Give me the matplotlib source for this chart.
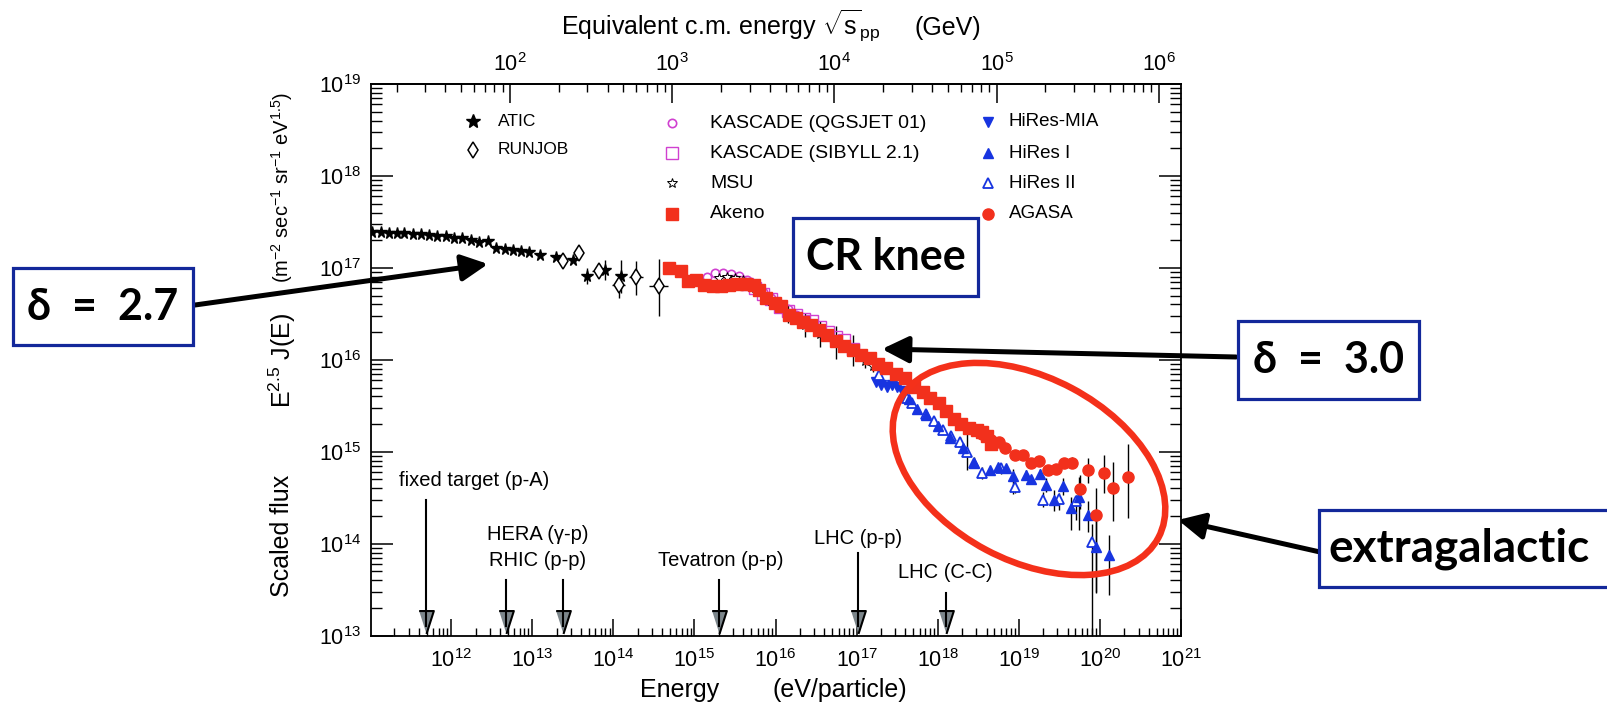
import numpy as np
import matplotlib
matplotlib.use("Agg")
import matplotlib.pyplot as plt
import matplotlib.transforms as mtransforms
from matplotlib.lines import Line2D
from matplotlib.patches import Rectangle, Ellipse, FancyArrowPatch
from matplotlib.ticker import LogLocator, NullFormatter

plt.rcParams['font.family'] = ['Liberation Sans', 'DejaVu Sans']
plt.rcParams['mathtext.fontset'] = 'custom'
plt.rcParams['mathtext.rm'] = 'Liberation Sans'
plt.rcParams['mathtext.it'] = 'Liberation Sans:italic'
plt.rcParams['mathtext.bf'] = 'Liberation Sans:bold'

# ---- cosmic-ray spectrum: log10(E / eV) and log10(E^2.5 J(E)) ----
atic_logE = [11.03, 11.14, 11.24, 11.33, 11.42, 11.53, 11.63, 11.73, 11.83, 11.94, 12.04, 12.14, 12.25,
             12.35, 12.45, 12.55, 12.66, 12.76, 12.86, 12.96, 13.09, 13.29, 13.50, 13.68, 13.90, 14.10]
atic_logF = [17.39, 17.39, 17.38, 17.38, 17.38, 17.37, 17.37, 17.36, 17.35, 17.35, 17.33, 17.32, 17.30,
             17.28, 17.29, 17.22, 17.21, 17.20, 17.18, 17.17, 17.14, 17.12, 17.09, 16.91, 16.98, 16.91]
atic_err = [0.0] * 23 + [0.09, 0.11, 0.18]

runjob_logE = [13.38, 13.58, 13.82, 14.07, 14.28, 14.56]
runjob_logF = [17.07, 17.16, 16.97, 16.81, 16.90, 16.80]
runjob_dup = [0.02, 0.02, 0.05, 0.08, 0.17, 0.30]
runjob_dlo = [0.02, 0.02, 0.05, 0.14, 0.20, 0.32]
runjob_xerr = [0.05, 0.05, 0.08, 0.08, 0.09, 0.12]

qgs_logE = [15.15, 15.25, 15.35, 15.45, 15.55, 15.65, 15.75, 15.85, 15.95, 16.05, 16.15, 16.25, 16.35, 16.45, 16.55]
qgs_logF = [16.90, 16.94, 16.94, 16.93, 16.91, 16.87, 16.80, 16.74, 16.67, 16.61, 16.55, 16.49, 16.43, 16.37, 16.30]

sib_logE = [15.45, 15.55, 15.65, 15.75, 15.85, 15.95, 16.05, 16.15, 16.25, 16.35, 16.45, 16.55, 16.65, 16.75, 16.85, 16.95]
sib_logF = [16.86, 16.85, 16.82, 16.78, 16.72, 16.66, 16.58, 16.53, 16.49, 16.44, 16.42, 16.36, 16.30, 16.25, 16.22, 16.12]

msu_logE = [15.30, 15.40, 15.50, 15.60, 15.75, 15.95, 16.15, 16.36, 16.55, 16.75, 16.95, 17.10, 17.20]
msu_logF = [16.89, 16.90, 16.89, 16.87, 16.78, 16.64, 16.50, 16.38, 16.28, 16.19, 16.10, 15.99, 15.93]
msu_err = [0.02, 0.02, 0.02, 0.02, 0.04, 0.06, 0.10, 0.13, 0.14, 0.18, 0.17, 0.08, 0.06]

akeno_logE = [14.69, 14.83, 14.92, 15.02, 15.12, 15.23, 15.33, 15.43, 15.53, 15.64, 15.74, 15.80, 15.88, 15.99,
              16.07, 16.17, 16.25, 16.34, 16.44, 16.54, 16.64, 16.75, 16.85, 16.95, 17.05, 17.16, 17.26, 17.36,
              17.49, 17.60, 17.71, 17.82, 17.91, 18.01, 18.10, 18.20, 18.29, 18.39, 18.48, 18.55, 18.61, 18.66]
akeno_logF = [17.00, 16.97, 16.86, 16.87, 16.81, 16.80, 16.80, 16.81, 16.82, 16.83, 16.81, 16.76, 16.67, 16.62,
              16.59, 16.49, 16.46, 16.41, 16.38, 16.33, 16.27, 16.21, 16.15, 16.11, 16.05, 16.02, 15.96, 15.91,
              15.85, 15.80, 15.71, 15.65, 15.59, 15.53, 15.44, 15.36, 15.30, 15.26, 15.24, 15.22, 15.17, 15.08]

mia_logE = [17.24, 17.30, 17.37, 17.44, 17.50, 17.56]
mia_logF = [15.76, 15.73, 15.71, 15.73, 15.71, 15.66]

hr1_logE = [17.64, 17.75, 17.85, 18.00, 18.15, 18.31, 18.45, 18.64, 18.74, 18.84, 18.93,
            19.09, 19.15, 19.26, 19.34, 19.44, 19.54, 19.64, 19.74, 19.85, 19.95, 20.11]
hr1_logF = [15.57, 15.47, 15.40, 15.28, 15.15, 15.04, 14.88, 14.80, 14.84, 14.82, 14.74,
            14.75, 14.70, 14.76, 14.64, 14.48, 14.63, 14.39, 14.51, 14.31, 13.97, 13.88]
hr1_dup = [0.02] * 10 + [0.07, 0.05, 0.05, 0.05, 0.08, 0.10, 0.08, 0.12, 0.22, 0.16, 0.30, 0.22]
hr1_dlo = [0.02] * 10 + [0.20, 0.05, 0.05, 0.05, 0.08, 0.12, 0.10, 0.24, 0.36, 0.18, 0.50, 0.44]

hr2_logE = [17.28, 17.62, 17.68, 17.85, 17.96, 18.06, 18.16, 18.27, 18.36, 18.45, 18.55,
            18.78, 18.95, 19.30, 19.50, 19.70, 19.90]
hr2_logF = [15.83, 15.58, 15.53, 15.41, 15.33, 15.24, 15.17, 15.11, 15.00, 14.88, 14.77,
            14.82, 14.62, 14.48, 14.49, 14.46, 14.02]
hr2_dup = [0.02, 0.02, 0.02, 0.02, 0.02, 0.03, 0.04, 0.05, 0.20, 0.06, 0.07, 0.06, 0.07, 0.08, 0.06, 0.07, 0.20]
hr2_dlo = [0.02, 0.02, 0.02, 0.02, 0.02, 0.03, 0.04, 0.05, 0.20, 0.06, 0.07, 0.06, 0.07, 0.08, 0.12, 0.20, 2.00]

agasa_logE = [18.55, 18.66, 18.76, 18.83, 18.95, 19.05, 19.15, 19.25, 19.36, 19.46, 19.56, 19.66,
              19.75, 19.85, 19.95, 20.05, 20.16, 20.35]
agasa_logF = [15.19, 15.13, 15.11, 15.04, 14.97, 14.97, 14.88, 14.90, 14.80, 14.81, 14.88, 14.88,
              14.59, 14.80, 14.31, 14.77, 14.61, 14.73]
agasa_dup = [0.02] * 8 + [0.03, 0.04, 0.05, 0.06, 0.16, 0.13, 0.30, 0.19, 0.28, 0.36]
agasa_dlo = [0.02] * 8 + [0.03, 0.04, 0.05, 0.06, 0.21, 0.14, 0.85, 0.22, 0.36, 0.45]

# collider energies converted to an equivalent fixed-target energy (eV)
acc_E = [4.9e11, 4.8e12, 2.4e13, 2.0e15, 1.04e17, 1.26e18]
acc_top = [500, 580, 580, 580, 553, 593]
acc_labels = ["fixed target (p-A)", "HERA (\u03b3-p)", "RHIC (p-p)", "Tevatron (p-p)", "LHC (p-p)", "LHC (C-C)"]
acc_label_pos = [(474, 480), (538, 535), (538, 560), (721, 560), (858, 538), (945, 573)]

RED = '#f2301c'
BLUE = '#1734e0'
MAGENTA = '#d040d0'
BOX_BLUE = '#13289a'

W, H = 1607, 707
AX_L, AX_R, AX_T, AX_B = 370.7, 1181.0, 84.0, 635.7


def fx(x):
    return x / W


def fy(y):
    return 1 - y / H


fig = plt.figure(figsize=(W / 100, H / 100), dpi=100)
ax = fig.add_axes([fx(AX_L), fy(AX_B), (AX_R - AX_L) / W, (AX_B - AX_T) / H])
ax.set_xscale('log')
ax.set_yscale('log')


def dex_err(val, dlo, dhi):
    val = np.asarray(val)
    return [val - val * 10.0 ** (-np.asarray(dlo)), val * 10.0 ** np.asarray(dhi) - val]


def series(logE, logF, style, dlo=None, dhi=None, xdex=None):
    E = 10.0 ** np.asarray(logE)
    F = 10.0 ** np.asarray(logF)
    yerr = dex_err(F, dlo, dhi) if dlo is not None else None
    xerr = dex_err(E, xdex, xdex) if xdex is not None else None
    ax.errorbar(E, F, yerr=yerr, xerr=xerr, ls='none', ecolor='black',
                elinewidth=1.0, capsize=0, **style)


atic_style = dict(marker='*', ms=8.5, mfc='black', mec='black')
runjob_style = dict(marker='d', ms=8, mfc='white', mec='black', mew=1.1)
qgs_style = dict(marker='o', ms=6, mfc='none', mec=MAGENTA, mew=1.2)
sib_style = dict(marker='s', ms=8, mfc='none', mec=MAGENTA, mew=1.0)
msu_style = dict(marker='*', ms=7, mfc='white', mec='black', mew=0.7)
akeno_style = dict(marker='s', ms=8.3, mfc=RED, mec=RED)
mia_style = dict(marker='v', ms=7.5, mfc=BLUE, mec=BLUE)
hr1_style = dict(marker='^', ms=7.5, mfc=BLUE, mec=BLUE)
hr2_style = dict(marker='^', ms=7.5, mfc='white', mec=BLUE, mew=1.3)
agasa_style = dict(marker='o', ms=8, mfc=RED, mec=RED)

series(atic_logE, atic_logF, atic_style, atic_err, atic_err)
series(runjob_logE, runjob_logF, runjob_style, runjob_dlo, runjob_dup, runjob_xerr)
series(qgs_logE, qgs_logF, qgs_style)
series(sib_logE, sib_logF, sib_style)
series(msu_logE, msu_logF, msu_style, msu_err, msu_err)
series(mia_logE, mia_logF, mia_style)
series(hr2_logE, hr2_logF, hr2_style, hr2_dlo, hr2_dup)
series(hr1_logE, hr1_logF, hr1_style, hr1_dlo, hr1_dup)
series(akeno_logE, akeno_logF, akeno_style)
series(agasa_logE, agasa_logF, agasa_style, agasa_dlo, agasa_dup)

# accelerator reach markers along the bottom
blend = mtransforms.blended_transform_factory(ax.transData, ax.transAxes)


def ax_y(ypix):
    return (AX_B - ypix) / (AX_B - AX_T)


tri = [(-0.32, 0.5), (0.32, 0.5), (0.0, -0.5)]
for E, top in zip(acc_E, acc_top):
    ax.plot([E], [ax_y(621.5)], transform=blend, marker=tri, ms=16.5, mfc='#7c868b',
            mec='black', mew=1.5, ls='none', clip_on=False, zorder=4)
    ax.plot([E, E], [ax_y(top), ax_y(626)], transform=blend, color='black', lw=1.5,
            clip_on=False, zorder=5)
for label, (lx, ly) in zip(acc_labels, acc_label_pos):
    fig.text(fx(lx), fy(ly), label, ha='center', va='center', fontsize=14.5)

ax.set_xlim(1.02e11, 1e21)
ax.set_ylim(1e13, 1e19)

ax.xaxis.set_major_locator(LogLocator(base=10, numticks=30))
ax.xaxis.set_minor_locator(LogLocator(base=10, subs=np.arange(2, 10), numticks=30))
ax.xaxis.set_minor_formatter(NullFormatter())
ax.yaxis.set_major_locator(LogLocator(base=10, numticks=30))
ax.yaxis.set_minor_locator(LogLocator(base=10, subs=np.arange(2, 10), numticks=30))
ax.yaxis.set_minor_formatter(NullFormatter())

ax.tick_params(axis='x', which='major', direction='in', length=12, width=1.1,
               labelsize=15.5, pad=10, top=False)
ax.tick_params(axis='x', which='minor', direction='in', length=6, width=1.0, top=False)
ax.tick_params(axis='y', which='major', direction='in', length=16, width=1.1,
               labelsize=15.5, pad=7, right=True)
ax.tick_params(axis='y', which='minor', direction='in', length=8, width=1.0, right=True)
for s in ax.spines.values():
    s.set_linewidth(1.3)


# equivalent centre-of-mass energy for a proton target (GeV)
def e_to_sqrts(E):
    return np.sqrt(np.clip(2 * 0.938 * np.asarray(E, dtype=float) / 1e9, 1e-30, None))


def sqrts_to_e(s):
    return np.asarray(s, dtype=float) ** 2 / (2 * 0.938) * 1e9


secax = ax.secondary_xaxis('top', functions=(e_to_sqrts, sqrts_to_e))
secax.xaxis.set_major_locator(LogLocator(base=10, numticks=30))
secax.xaxis.set_minor_locator(LogLocator(base=10, subs=np.arange(2, 10), numticks=30))
secax.xaxis.set_minor_formatter(NullFormatter())
secax.tick_params(axis='x', which='major', direction='in', length=14, width=1.1,
                  labelsize=15.5, pad=6)
secax.tick_params(axis='x', which='minor', direction='in', length=6, width=1.0)
secax.spines['top'].set_linewidth(1.3)

# axis titles
fig.text(fx(561), fy(35), r"Equivalent c.m. energy $\sqrt{\mathrm{s}}_{\mathrm{pp}}$", ha='left',
         va='baseline', fontsize=18)
fig.text(fx(915), fy(35), "(GeV)", ha='left', va='baseline', fontsize=18)
fig.text(fx(680), fy(697), "Energy", ha='center', va='baseline', fontsize=18)
fig.text(fx(840), fy(697), "(eV/particle)", ha='center', va='baseline', fontsize=18)
fig.text(fx(282), fy(536), "Scaled flux", rotation=90, ha='center', va='center', fontsize=18)
fig.text(fx(282), fy(360), r"E$^{2.5}$ J(E)", rotation=90, ha='center', va='center', fontsize=18)
fig.text(fx(282), fy(187), r"(m$^{-2}$ sec$^{-1}$ sr$^{-1}$ eV$^{1.5}$)", rotation=90,
         ha='center', va='center', fontsize=14.5)


# legend, three columns
def legend_entry(mx, tx, y, label, style, size):
    fig.add_artist(Line2D([fx(mx)], [fy(y)], transform=fig.transFigure, ls='none', **style))
    fig.text(fx(tx), fy(y), label, ha='left', va='center', fontsize=size)


legend_entry(473, 498, 121, "ATIC", dict(atic_style, ms=10), 12.5)
legend_entry(473, 498, 150, "RUNJOB", runjob_style, 12.5)
legend_entry(672, 710, 123, "KASCADE (QGSJET 01)", qgs_style, 14)
legend_entry(672, 710, 153, "KASCADE (SIBYLL 2.1)", dict(sib_style, ms=9), 14)
legend_entry(672, 710, 183, "MSU", msu_style, 14)
legend_entry(672, 710, 214, "Akeno", akeno_style, 14)
legend_entry(988, 1009, 122, "HiRes-MIA", mia_style, 13.5)
legend_entry(988, 1009, 153, "HiRes I", hr1_style, 13.5)
legend_entry(988, 1009, 183, "HiRes II", hr2_style, 13.5)
legend_entry(988, 1009, 214, "AGASA", agasa_style, 13.5)

# callout boxes and arrows
CALLOUT_FONT = ['Lato', 'DejaVu Sans']


def callout(text, x0, y0, x1, y1, tx=None, ha='center', size=31):
    fig.add_artist(Rectangle((fx(x0), fy(y1)), (x1 - x0) / W, (y1 - y0) / H,
                             transform=fig.transFigure, facecolor='white',
                             edgecolor=BOX_BLUE, lw=2.3, zorder=6))
    xt = (x0 + x1) / 2 if tx is None else tx
    fig.text(fx(xt), fy((y0 + y1) / 2), text, ha=ha, va='center', fontsize=size,
             fontweight='bold', family=CALLOUT_FONT, zorder=7)


def arrow(x0, y0, x1, y1):
    fig.add_artist(FancyArrowPatch((fx(x0), fy(y0)), (fx(x1), fy(y1)),
                                   transform=fig.transFigure,
                                   arrowstyle='-|>,head_length=1.0,head_width=0.5',
                                   mutation_scale=16, lw=3.6, color='black',
                                   shrinkA=0, shrinkB=0, zorder=5))


arrow(195, 305, 488, 264)
arrow(1236, 357, 882, 349)
arrow(1320, 552, 1178, 520)

callout("\u03b4  =  2.7", 13, 268, 193, 345)
callout("CR knee", 793, 218, 978, 296)
callout("\u03b4  =  3.0", 1238, 321, 1419, 399)
callout("extragalactic", 1319, 510, 1625, 587, tx=1328, ha='left', size=33)

fig.add_artist(Ellipse((1029 / 100, (H - 469) / 100), 2.93, 1.83, angle=-28,
                       transform=fig.dpi_scale_trans, fill=False,
                       edgecolor='#f4301a', lw=4.7, zorder=4))

fig.savefig("out.png", dpi=100)
